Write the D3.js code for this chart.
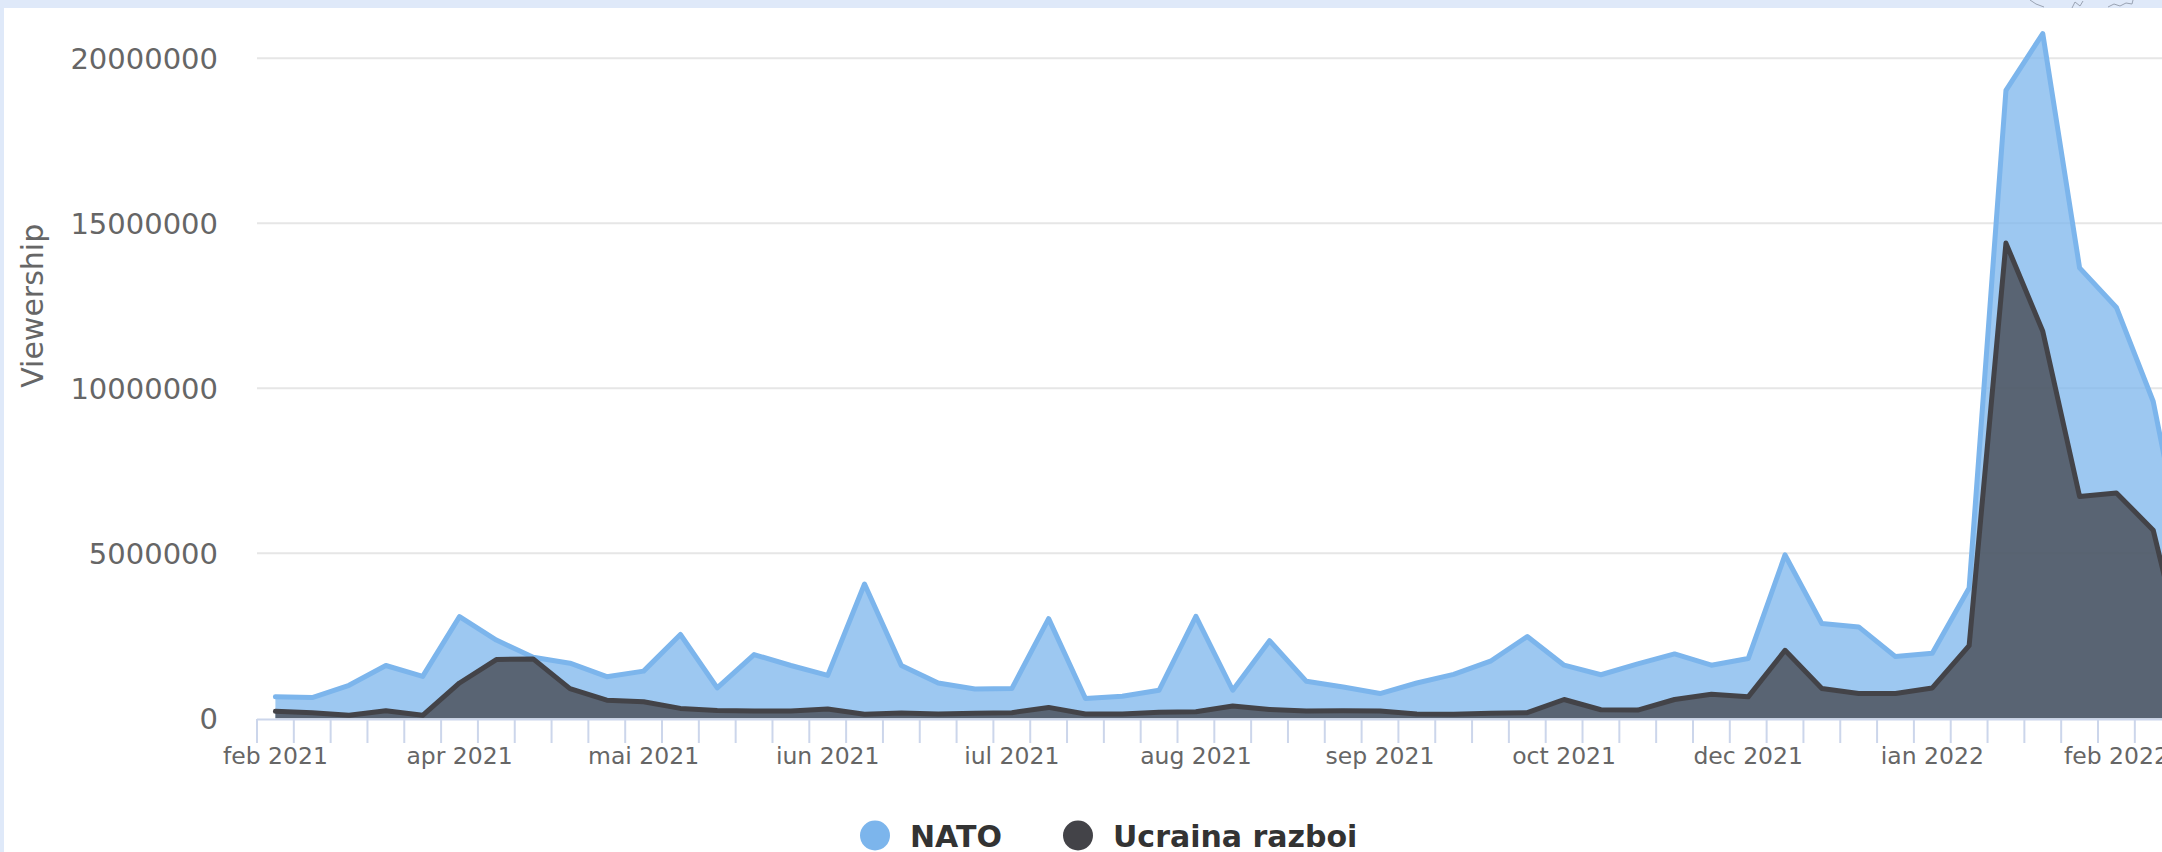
<!DOCTYPE html>
<html>
<head>
<meta charset="utf-8">
<script src="https://cdn.jsdelivr.net/npm/d3@7"></script>
<style>
  html, body { margin: 0; padding: 0; background: #dfe9f9; }
  svg { display: block; }
  text { font-family: "DejaVu Sans", Verdana, sans-serif; }
</style>
</head>
<body>
<svg id="chart" width="2162" height="852"></svg>
<script>
// ---- data ----
const weeks = [
  "2021-02-28","2021-03-07","2021-03-14","2021-03-21","2021-03-28","2021-04-04","2021-04-11",
  "2021-04-18","2021-04-25","2021-05-02","2021-05-09","2021-05-16","2021-05-23","2021-05-30",
  "2021-06-06","2021-06-13","2021-06-20","2021-06-27","2021-07-04","2021-07-11","2021-07-18",
  "2021-07-25","2021-08-01","2021-08-08","2021-08-15","2021-08-22","2021-08-29","2021-09-05",
  "2021-09-12","2021-09-19","2021-09-26","2021-10-03","2021-10-10","2021-10-17","2021-10-24",
  "2021-10-31","2021-11-07","2021-11-14","2021-11-21","2021-11-28","2021-12-05","2021-12-12",
  "2021-12-19","2021-12-26","2022-01-02","2022-01-09","2022-01-16","2022-01-23","2022-01-30",
  "2022-02-06","2022-02-13","2022-02-20","2022-02-27"
];
const nato = [
  650000, 630000, 1000000, 1600000, 1270000, 3080000, 2370000,
  1850000, 1670000, 1260000, 1430000, 2540000, 920000, 1930000,
  1600000, 1300000, 4070000, 1600000, 1070000, 890000, 900000,
  3020000, 600000, 670000, 850000, 3090000, 850000, 2350000,
  1120000, 950000, 750000, 1070000, 1330000, 1730000, 2480000,
  1610000, 1320000, 1650000, 1950000, 1610000, 1810000, 4950000,
  2870000, 2770000, 1870000, 1970000, 3950000, 19030000, 20750000,
  13650000, 12450000, 9600000, 4000000
];
const ucraina = [
  210000, 170000, 90000, 230000, 90000, 1070000, 1780000,
  1800000, 900000, 550000, 500000, 300000, 240000, 220000,
  220000, 280000, 120000, 160000, 130000, 150000, 170000,
  330000, 130000, 130000, 180000, 200000, 370000, 270000,
  220000, 230000, 220000, 130000, 120000, 150000, 170000,
  570000, 260000, 250000, 570000, 730000, 650000, 2060000,
  900000, 750000, 750000, 920000, 2200000, 14400000, 11730000,
  6720000, 6830000, 5700000, 1100000
];
const tickLabels = [
  {week: "2021-02-28", label: "feb 2021"},
  {week: "2021-04-04", label: "apr 2021"},
  {week: "2021-05-09", label: "mai 2021"},
  {week: "2021-06-13", label: "iun 2021"},
  {week: "2021-07-18", label: "iul 2021"},
  {week: "2021-08-22", label: "aug 2021"},
  {week: "2021-09-26", label: "sep 2021"},
  {week: "2021-10-31", label: "oct 2021"},
  {week: "2021-12-05", label: "dec 2021"},
  {week: "2022-01-09", label: "ian 2022"},
  {week: "2022-02-13", label: "feb 2022"}
];
const yTicks = [0, 5000000, 10000000, 15000000, 20000000, 25000000];
const seriesNames = ["NATO", "Ucraina razboi"];
const seriesColors = ["#7cb5ec", "#434348"];
const yTitle = "Viewership";

// ---- layout ----
const svg = d3.select("#chart");
const plotLeft = 257, step = 36.82;
const yZero = 718.3, yTop = yZero - 5 * 165;

// chart background box
svg.append("rect").attr("x", 4).attr("y", 8).attr("width", 2162 - 4).attr("height", 852 - 8)
  .attr("fill", "#ffffff");

// small decorative sketch at top-right of page background
const deco = svg.append("g").attr("fill", "none").attr("stroke", "#9aa3b3").attr("stroke-width", 1);
deco.append("path").attr("d", "M2030,0 L2036,4 L2044,7");
deco.append("path").attr("d", "M2072,8 L2075,2 L2080,6 L2083,1");
deco.append("path").attr("d", "M2108,7 L2114,4 L2120,6 L2126,3 L2132,4 L2133,0");

const x = d3.scaleBand().domain(weeks).range([plotLeft, plotLeft + weeks.length * step]).padding(0);
const y = d3.scaleLinear().domain([0, 25000000]).range([yZero, yTop]);
const cx = w => x(w) + x.bandwidth() / 2;

// gridlines
svg.append("g").selectAll("line").data(yTicks.filter(t => t > 0)).join("line")
  .attr("x1", plotLeft).attr("x2", 2162)
  .attr("y1", d => y(d)).attr("y2", d => y(d))
  .attr("stroke", "#e6e6e6").attr("stroke-width", 2);

// y labels
svg.append("g").selectAll("text").data(yTicks).join("text")
  .attr("x", 218).attr("y", d => y(d) + 10.5)
  .attr("text-anchor", "end").attr("font-size", 29).attr("fill", "#666666")
  .text(d => d3.format("d")(d));

// y title
svg.append("text")
  .attr("transform", `translate(43,${(yZero + yTop) / 2}) rotate(-90)`)
  .attr("text-anchor", "middle").attr("font-size", 30).attr("fill", "#666666")
  .text(yTitle);

// areas
const series = [nato, ucraina];
const area = vals => d3.area()
  .x((d, i) => cx(weeks[i])).y0(y(0)).y1(d => y(d))(vals);
const line = vals => d3.line()
  .x((d, i) => cx(weeks[i])).y(d => y(d))(vals);

series.forEach((vals, si) => {
  svg.append("path").attr("d", area(vals))
    .attr("fill", seriesColors[si]).attr("fill-opacity", 0.75);
  svg.append("path").attr("d", line(vals))
    .attr("fill", "none").attr("stroke", seriesColors[si]).attr("stroke-width", 5)
    .attr("stroke-linejoin", "round").attr("stroke-linecap", "round");
});

// x axis line and ticks
svg.append("line").attr("x1", plotLeft).attr("x2", 2162)
  .attr("y1", 719.5).attr("y2", 719.5).attr("stroke", "#ccd6eb").attr("stroke-width", 2);
svg.append("g").selectAll("line").data(weeks).join("line")
  .attr("x1", d => x(d)).attr("x2", d => x(d))
  .attr("y1", 719).attr("y2", 743)
  .attr("stroke", "#ccd6eb").attr("stroke-width", 2);

// x labels
svg.append("g").selectAll("text").data(tickLabels).join("text")
  .attr("x", d => cx(d.week)).attr("y", 764)
  .attr("text-anchor", "middle").attr("font-size", 23.5).attr("fill", "#666666")
  .text(d => d.label);

// legend
const legendItems = [
  {name: seriesNames[0], color: seriesColors[0], cx: 875, tx: 910},
  {name: seriesNames[1], color: seriesColors[1], cx: 1078, tx: 1113}
];
const lg = svg.append("g");
lg.selectAll("circle").data(legendItems).join("circle")
  .attr("cx", d => d.cx).attr("cy", 835.5).attr("r", 15).attr("fill", d => d.color);
lg.selectAll("text").data(legendItems).join("text")
  .attr("x", d => d.tx).attr("y", 846.5)
  .attr("font-size", 30).attr("font-weight", "bold").attr("fill", "#333333")
  .text(d => d.name);
</script>
</body>
</html>
